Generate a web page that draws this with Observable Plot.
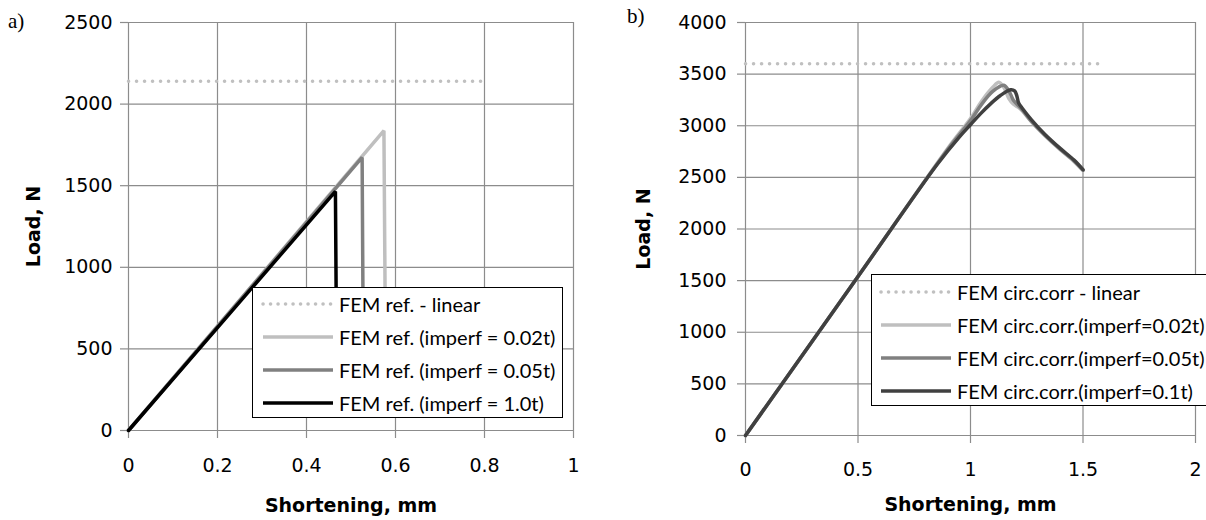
<!DOCTYPE html>
<html><head><meta charset="utf-8">
<script src="https://cdn.jsdelivr.net/npm/d3@7"></script>
<script src="https://cdn.jsdelivr.net/npm/@observablehq/plot@0.6"></script>
<style>
html,body{margin:0;padding:0;background:#fff;}
#wrap{position:relative;width:1206px;height:520px;overflow:hidden;background:#fff;}
.panel{position:absolute;top:0;}
.panel svg{display:block;}
.tag{position:absolute;font-family:"Liberation Serif",serif;font-size:21px;color:#000;line-height:1;}
.legend{position:absolute;background:#fff;border:1.5px solid #000;box-sizing:border-box;font-family:Lato,sans-serif;font-size:20px;color:#000;}
.legend .row{position:absolute;left:0;height:0;}
.legend .row svg{position:absolute;top:-5px;}
.legend .row span{position:absolute;white-space:nowrap;transform:translateY(-50%);line-height:1;}
g[aria-label="x-axis label"] text, g[aria-label="y-axis label"] text{font-weight:bold;}
</style>
</head><body>
<div id="wrap"></div>
<script>
// ---------- Panel a) data ----------
const aXTicks = [0, 0.2, 0.4, 0.6, 0.8, 1];
const aYTicks = [0, 500, 1000, 1500, 2000, 2500];
const aLinearX = [0, 0.8];
const aLinearY = [2140, 2140];
const a002X = [0, 0.574, 0.578];
const a002Y = [0, 1837, 300];
const a005X = [0, 0.525, 0.528];
const a005Y = [0, 1673, 300];
const a10X = [0, 0.465, 0.468];
const a10Y = [0, 1465, 300];
const aNames = ["FEM ref. - linear", "FEM ref. (imperf = 0.02t)", "FEM ref. (imperf = 0.05t)", "FEM ref. (imperf = 1.0t)"];

// ---------- Panel b) data ----------
const bXTicks = [0, 0.5, 1, 1.5, 2];
const bYTicks = [0, 500, 1000, 1500, 2000, 2500, 3000, 3500, 4000];
const bLinearX = [0, 1.58];
const bLinearY = [3600, 3600];
const b002X = [0, 0.5, 0.9, 1.0, 1.05, 1.1, 1.126, 1.15, 1.17, 1.19, 1.22, 1.27, 1.33, 1.4, 1.46, 1.5];
const b002Y = [0, 1540, 2785, 3070, 3240, 3375, 3422, 3365, 3265, 3210, 3165, 3040, 2905, 2765, 2655, 2565];
const b005X = [0, 0.5, 0.9, 1.0, 1.05, 1.1, 1.148, 1.17, 1.19, 1.21, 1.23, 1.27, 1.33, 1.4, 1.46, 1.5];
const b005Y = [0, 1540, 2775, 3050, 3210, 3335, 3392, 3340, 3250, 3200, 3155, 3045, 2910, 2770, 2660, 2570];
const b01X = [0, 0.5, 0.85, 0.95, 1.0, 1.044, 1.089, 1.133, 1.178, 1.196, 1.206, 1.214, 1.23, 1.27, 1.33, 1.4, 1.46, 1.5];
const b01Y = [0, 1540, 2620, 2890, 3010, 3115, 3212, 3293, 3348, 3338, 3290, 3220, 3170, 3060, 2918, 2778, 2668, 2575];
const bNames = ["FEM circ.corr - linear", "FEM circ.corr.(imperf=0.02t)", "FEM circ.corr.(imperf=0.05t)", "FEM circ.corr.(imperf=0.1t)"];

// ---------- helpers ----------
const rows = (xs, ys) => xs.map((x, i) => ({x, y: ys[i]}));
const GRID = "#8c8c8c";
const DOT = {stroke: "#c0c0c0", strokeWidth: 3.5, strokeDasharray: "0.1 7.9", strokeLinecap: "round"};

function panel(o) {
  return Plot.plot({
    width: o.width, height: 520,
    marginLeft: o.ml, marginRight: o.mr, marginTop: 22, marginBottom: o.mb,
    style: {fontFamily: "DejaVu Sans", fontSize: "19px", color: "#000", background: "transparent", overflow: "visible"},
    x: {domain: [o.xTicks[0], o.xTicks[o.xTicks.length - 1]]},
    y: {domain: [o.yTicks[0], o.yTicks[o.yTicks.length - 1]]},
    marks: [
      Plot.gridX(o.xTicks, {stroke: GRID, strokeOpacity: 1, strokeWidth: 1.2}),
      Plot.gridY(o.yTicks, {stroke: GRID, strokeOpacity: 1, strokeWidth: 1.2}),
      Plot.axisX(o.xTicks, {tickSize: 8, tickPadding: o.xPad, stroke: GRID, strokeWidth: 1.2, tickFormat: d => String(d),
        label: "Shortening, mm", labelAnchor: "center", labelArrow: "none", labelOffset: o.xLabOff}),
      Plot.axisY(o.yTicks, {tickSize: 8, tickPadding: o.yPad, stroke: GRID, strokeWidth: 1.2, tickFormat: d => String(d),
        label: "Load, N", labelAnchor: "center", labelArrow: "none", labelOffset: o.yLabOff}),
      Plot.line(rows(o.lin[0], o.lin[1]), {x: "x", y: "y", ...DOT}),
      ...o.series.map(s => Plot.line(rows(s[0], s[1]), {x: "x", y: "y", stroke: s[2], strokeWidth: 3.5,
        strokeLinejoin: o.curve === "linear" ? "miter" : "round", curve: o.curve}))
    ]
  });
}

function legend(o) {
  const div = document.createElement("div");
  div.className = "legend";
  Object.assign(div.style, {left: o.left + "px", top: o.top + "px", width: o.w + "px", height: o.h + "px"});
  o.items.forEach((it, i) => {
    const r = document.createElement("div");
    r.className = "row";
    r.style.top = (o.first + i * o.step) + "px";
    const dash = it.dotted ? 'stroke-dasharray="0.1 7.4" stroke-linecap="round"' : '';
    r.innerHTML = `<svg width="${o.sw + 10}" height="10" style="left:${o.sx - 5}px"><line x1="5" x2="${o.sw + 5}" y1="5" y2="5" stroke="${it.color}" stroke-width="3.5" ${dash}/></svg><span style="left:${o.tx}px">${it.name}</span>`;
    div.appendChild(r);
  });
  return div;
}

const wrap = document.getElementById("wrap");

// Panel a
const pa = document.createElement("div"); pa.className = "panel"; pa.style.left = "0px";
pa.appendChild(panel({
  width: 600, ml: 128, mr: 27, mb: 90, xTicks: aXTicks, yTicks: aYTicks, xPad: 20, yPad: 8, xLabOff: 81, yLabOff: 102,
  curve: "linear",
  lin: [aLinearX, aLinearY],
  series: [[a002X, a002Y, "#bfbfbf"], [a005X, a005Y, "#808080"], [a10X, a10Y, "#000000"]]
}));
wrap.appendChild(pa);

// Panel b
const pb = document.createElement("div"); pb.className = "panel"; pb.style.left = "600px";
pb.appendChild(panel({
  width: 606, ml: 145, mr: 11, mb: 85, xTicks: bXTicks, yTicks: bYTicks, xPad: 19, yPad: 11, xLabOff: 75, yLabOff: 109,
  curve: "catmull-rom",
  lin: [bLinearX, bLinearY],
  series: [[b002X, b002Y, "#bfbfbf"], [b005X, b005Y, "#808080"], [b01X, b01Y, "#404040"]]
}));
wrap.appendChild(pb);

// Legends
const aColors = ["#c0c0c0", "#bfbfbf", "#808080", "#000000"];
const bColors = ["#c0c0c0", "#bfbfbf", "#808080", "#404040"];
wrap.appendChild(legend({left: 252, top: 287, w: 311, h: 131, first: 16, step: 33, sx: 10, sw: 70, tx: 86,
  items: aNames.map((n, i) => ({name: n, color: aColors[i], dotted: i === 0}))}));
wrap.appendChild(legend({left: 871, top: 274, w: 337, h: 132, first: 17, step: 33, sx: 9, sw: 70, tx: 85,
  items: bNames.map((n, i) => ({name: n, color: bColors[i], dotted: i === 0}))}));

// Panel tags
const ta = document.createElement("div"); ta.className = "tag"; ta.textContent = "a)";
Object.assign(ta.style, {left: "8px", top: "11px"}); wrap.appendChild(ta);
const tb = document.createElement("div"); tb.className = "tag"; tb.textContent = "b)";
Object.assign(tb.style, {left: "627px", top: "6px"}); wrap.appendChild(tb);
</script>
</body></html>
